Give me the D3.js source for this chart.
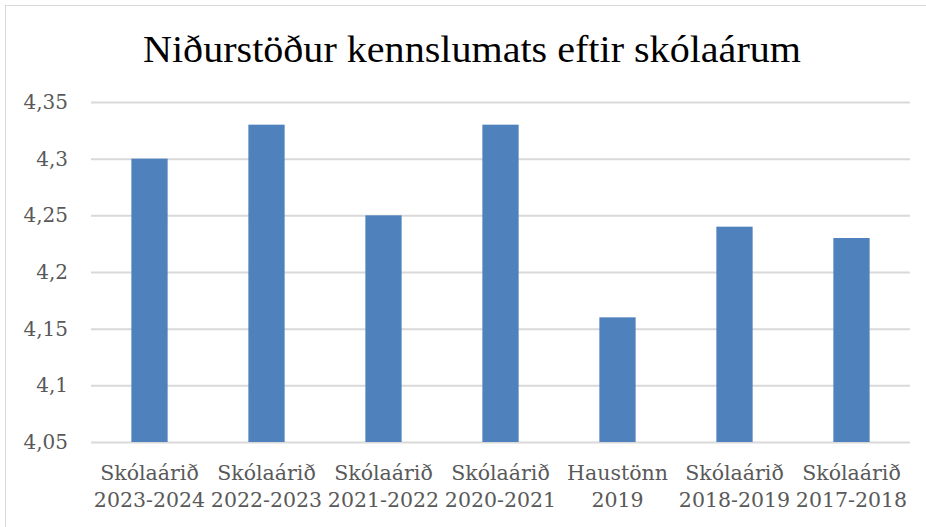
<!DOCTYPE html>
<html><head><meta charset="utf-8">
<script src="https://cdn.jsdelivr.net/npm/d3@7"></script>
<style>body{margin:0;background:#fff;} svg{display:block;}</style>
</head><body>
<script>
const categories = [["Skólaárið","2023-2024"],["Skólaárið","2022-2023"],["Skólaárið","2021-2022"],["Skólaárið","2020-2021"],["Haustönn","2019"],["Skólaárið","2018-2019"],["Skólaárið","2017-2018"]];
const values = [4.30, 4.33, 4.25, 4.33, 4.16, 4.24, 4.23];
const yTicks = [4.05, 4.1, 4.15, 4.2, 4.25, 4.3, 4.35];
const title = "Niðurstöður kennslumats eftir skólaárum";

const W = 926, H = 527;
const svg = d3.select("body").append("svg").attr("width", W).attr("height", H);
svg.append("rect").attr("x",5.5).attr("y",5.5).attr("width",W+10).attr("height",H+10)
  .attr("fill","#fff").attr("stroke","#d9d9d9");

const font = "'DejaVu Serif', serif";
const x = d3.scaleBand().domain(d3.range(categories.length)).range([91, 910]).paddingInner(0.69).paddingOuter(0.345);
const y = d3.scaleLinear().domain([4.05, 4.35]).range([442, 102]);

svg.append("text").attr("x", 472).attr("y", 62).attr("text-anchor","middle")
  .attr("font-family", "'Liberation Serif', serif").attr("font-size", 37).attr("fill","#000")
  .attr("textLength", 658).attr("lengthAdjust","spacingAndGlyphs").text(title);

const fmt = d => String(+d.toFixed(2)).replace(".", ",");
const yAxis = svg.append("g").attr("transform","translate(91,0)")
  .call(d3.axisLeft(y).tickValues(yTicks).tickSize(-819).tickFormat(fmt).tickPadding(23));
yAxis.select(".domain").remove();
yAxis.selectAll(".tick line").attr("stroke","#d9d9d9").attr("stroke-width",2);
yAxis.selectAll(".tick text").attr("font-family", font).attr("font-size", 20).attr("fill","#595959");

svg.append("g").selectAll("rect").data(values).join("rect")
  .attr("x",(d,i)=>x(i)).attr("width",x.bandwidth())
  .attr("y",d=>y(d)).attr("height",d=>y(4.05)-y(d)).attr("fill","#4F81BD");

const xl = svg.append("g");
categories.forEach((c,i)=>{
  const t = xl.append("text").attr("x", x(i)+x.bandwidth()/2).attr("y", 480)
    .attr("text-anchor","middle").attr("font-family", font).attr("font-size", 20.5).attr("fill","#595959");
  t.append("tspan").attr("x", x(i)+x.bandwidth()/2).attr("dy",0).text(c[0]);
  t.append("tspan").attr("x", x(i)+x.bandwidth()/2).attr("dy",27).text(c[1]);
});
</script>
</body></html>
